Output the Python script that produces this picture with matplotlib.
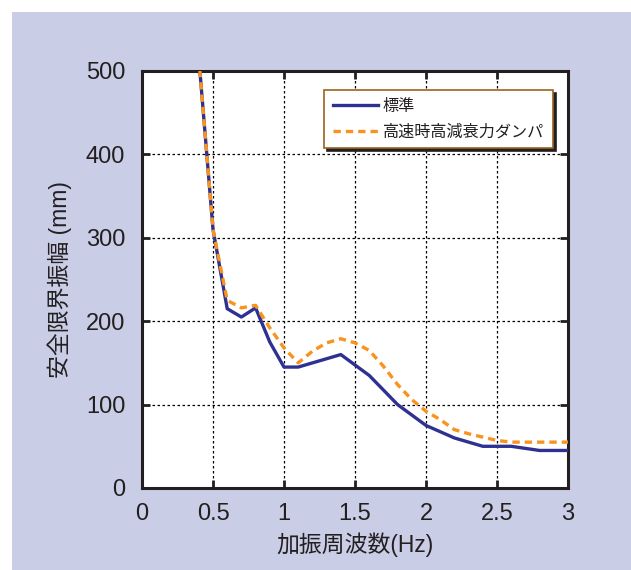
import matplotlib
matplotlib.use("Agg")
import matplotlib.pyplot as plt
from matplotlib.patches import Rectangle

plt.rcParams['font.family'] = ['Liberation Sans', 'Noto Sans CJK JP', 'DejaVu Sans']

# Data
freq_std = [0.4, 0.5, 0.6, 0.7, 0.8, 0.9, 1.0, 1.1, 1.4, 1.6, 1.8, 2.0, 2.2, 2.4, 2.6, 2.8, 3.0]
amp_std = [516, 310, 215, 205, 216, 175, 145, 145, 160, 135, 100, 75, 60, 50, 50, 45, 45]

freq_hd = [0.4, 0.5, 0.6, 0.7, 0.8, 0.9, 1.0, 1.1, 1.2, 1.3, 1.4, 1.5, 1.6, 1.7, 1.8,
           1.9, 2.0, 2.1, 2.2, 2.3, 2.4, 2.5, 2.6, 2.8, 3.0]
amp_hd = [516, 310, 225, 216, 219, 192, 168, 150, 164, 174, 179, 174, 165, 146, 124,
          106, 92, 82, 70, 65, 61, 57, 55, 55, 55]

label_std = '標準'
label_hd = '高速時高減衰力ダンパ'
xlabel = '加振周波数(Hz)'
ylabel = '安全限界振幅 (mm)'
xticks = [0, 0.5, 1, 1.5, 2, 2.5, 3]
xticklabels = ['0', '0.5', '1', '1.5', '2', '2.5', '3']
yticks = [0, 100, 200, 300, 400, 500]

W, H = 631, 570
fig = plt.figure(figsize=(W / 100, H / 100), dpi=100)
fig.patch.set_facecolor('white')
fig.patches.append(Rectangle((12 / W, 0), (W - 12) / W, (H - 12) / H,
                             transform=fig.transFigure, facecolor='#c9cde6',
                             edgecolor='none', zorder=-5))

ax = fig.add_axes([142 / W, (H - 488) / H, 426 / W, 417 / H])
ax.set_zorder(2)
ax.set_facecolor('white')

ax.plot(freq_std, amp_std, color='#2e3192', lw=2.4, label=label_std, zorder=3)
ax.plot(freq_hd, amp_hd, color='#f7931e', lw=2.4, ls=(0, (2.2, 1.5)), label=label_hd, zorder=4)

ax.set_xlim(0, 3)
ax.set_ylim(0, 500)
ax.set_xticks(xticks)
ax.set_xticklabels(xticklabels)
ax.set_yticks(yticks)

ax.grid(True, color='black', ls=(0, (2, 2)), lw=0.9)
for s in ax.spines.values():
    s.set_linewidth(2.2)
    s.set_color('#231f20')

ax.tick_params(axis='both', direction='in', length=6, width=2, color='#231f20',
               labelsize=17, labelcolor='#231f20', top=True, right=True)
ax.tick_params(axis='x', pad=11)
ax.tick_params(axis='y', pad=12)

ax.set_xlabel(xlabel, fontsize=16.5, color='#231f20', labelpad=5)
ax.set_ylabel(ylabel, fontsize=16.5, color='#231f20', labelpad=10)

leg = ax.legend(loc='upper left', bbox_to_anchor=(0.427, 0.955), fontsize=11.6,
                frameon=True, fancybox=False, shadow={'color': '#231f20', 'alpha': 1},
                edgecolor='#9a6420', framealpha=1, handlelength=2.8,
                borderpad=0.55, labelspacing=0.65, handletextpad=0.3, borderaxespad=0)
leg.get_frame().set_linewidth(1.2)
for t in leg.get_texts():
    t.set_color('#231f20')

fig.savefig('out.png', dpi=100, facecolor=fig.get_facecolor())
